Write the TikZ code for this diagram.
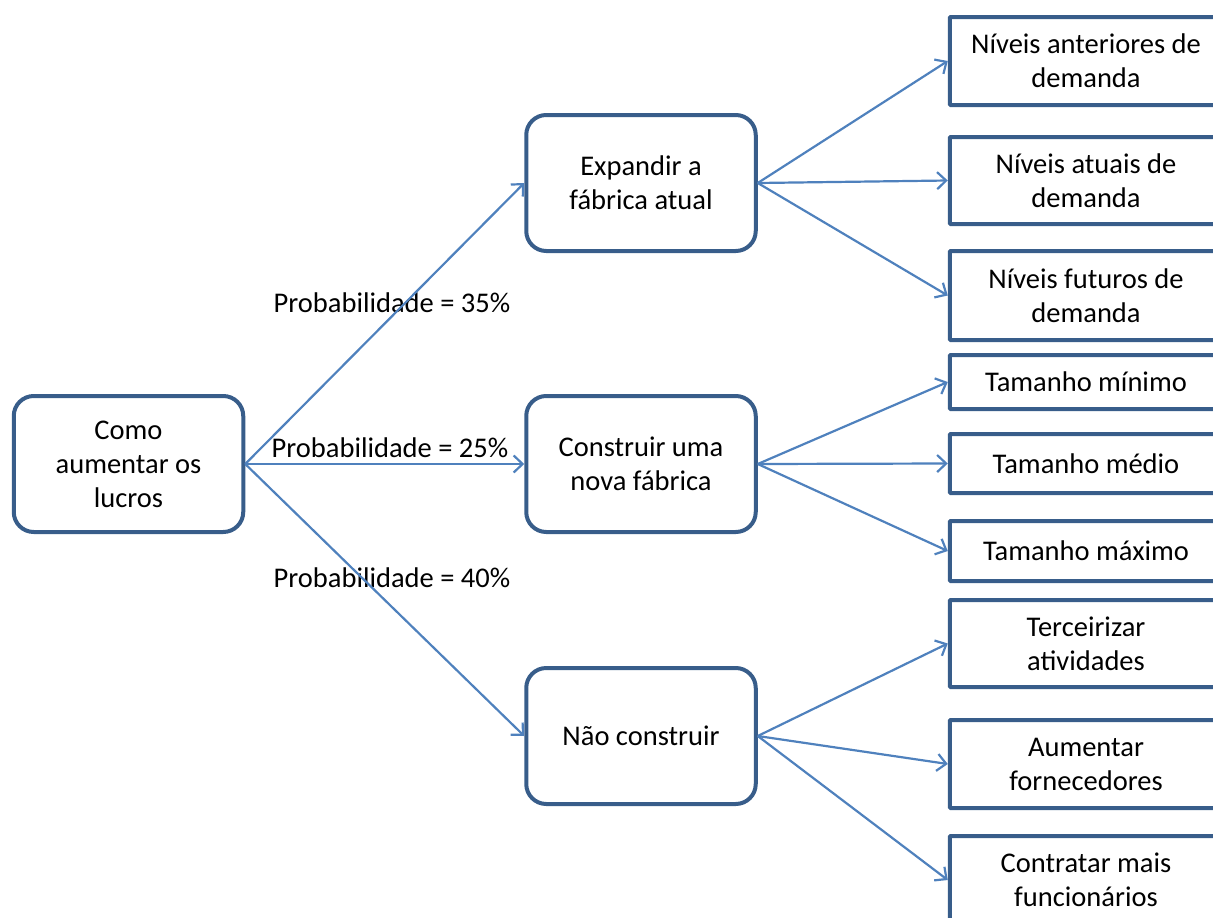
\documentclass[tikz,border=0pt]{standalone}
\usepackage{fontspec}
\setmainfont{Carlito}
\usetikzlibrary{arrows.meta}
\definecolor{borda}{HTML}{385D8A}
\definecolor{azulseta}{HTML}{4F81BD}

\begin{document}
\begin{tikzpicture}[x=1pt,y=-1pt,
    opcao/.style={draw=borda,line width=4pt,rounded corners=20pt,
      minimum width=229.5pt,minimum height=136pt,align=center,
      font=\fontsize{28.5}{34}\selectfont},
    folha/.style={draw=borda,line width=4pt,rounded corners=1pt,
      minimum width=272.5pt,align=center,font=\fontsize{28.5}{34}\selectfont},
    prob/.style={font=\fontsize{28.5}{34}\selectfont},
    seta/.style={draw=azulseta,line width=2.2pt,
      -{Straight Barb[length=9pt,width=17pt]}}]
      \clip (0,0) rectangle (1213,918) ;
      % raiz e alternativas
      \node[opcao] (lucros) at (128.5,464) {Como\\aumentar os\\lucros} ;
      \node[opcao] (expandir) at (641,183) {Expandir a\\fábrica atual} ;
      \node[opcao] (construir) at (641,464) {Construir uma\\nova fábrica} ;
      \node[opcao] (nao) at (641,736) {Não construir} ;
      % folhas
      \node[folha,minimum height=88pt] (anteriores) at (1086,61) {Níveis anteriores de\\demanda} ;
      \node[folha,minimum height=87pt] (atuais) at (1086,180.5) {Níveis atuais de\\demanda} ;
      \node[folha,minimum height=89pt] (futuros) at (1086,295.5) {Níveis futuros de\\demanda} ;
      \node[folha,minimum height=54pt] (minimo) at (1086,382) {Tamanho mínimo} ;
      \node[folha,minimum height=59pt] (medio) at (1086,463.5) {Tamanho médio} ;
      \node[folha,minimum height=60pt] (maximo) at (1086,551) {Tamanho máximo} ;
      \node[folha,minimum height=87pt] (terceirizar) at (1086,643.5) {Terceirizar\\atividades} ;
      \node[folha,minimum height=88pt] (fornecedores) at (1086,764) {Aumentar\\fornecedores} ;
      \node[folha,minimum height=88pt] (contratar) at (1086,880) {Contratar mais\\funcionários} ;
      % probabilidades
      \node[prob] (p35) at (392,303) {Probabilidade = 35\%} ;
      \node[prob] (p25) at (390,448) {Probabilidade = 25\%} ;
      \node[prob] (p40) at (392,578) {Probabilidade = 40\%} ;
      % setas
      \foreach \alvo in {expandir,construir,nao}
        \draw[seta] (lucros.east) -- (\alvo.west) ;
      \foreach \alvo in {anteriores,atuais,futuros}
        \draw[seta] (expandir.east) -- (\alvo.west) ;
      \foreach \alvo in {minimo,medio,maximo}
        \draw[seta] (construir.east) -- (\alvo.west) ;
      \foreach \alvo in {terceirizar,fornecedores,contratar}
        \draw[seta] (nao.east) -- (\alvo.west) ;
    \end{tikzpicture}
\end{document}
